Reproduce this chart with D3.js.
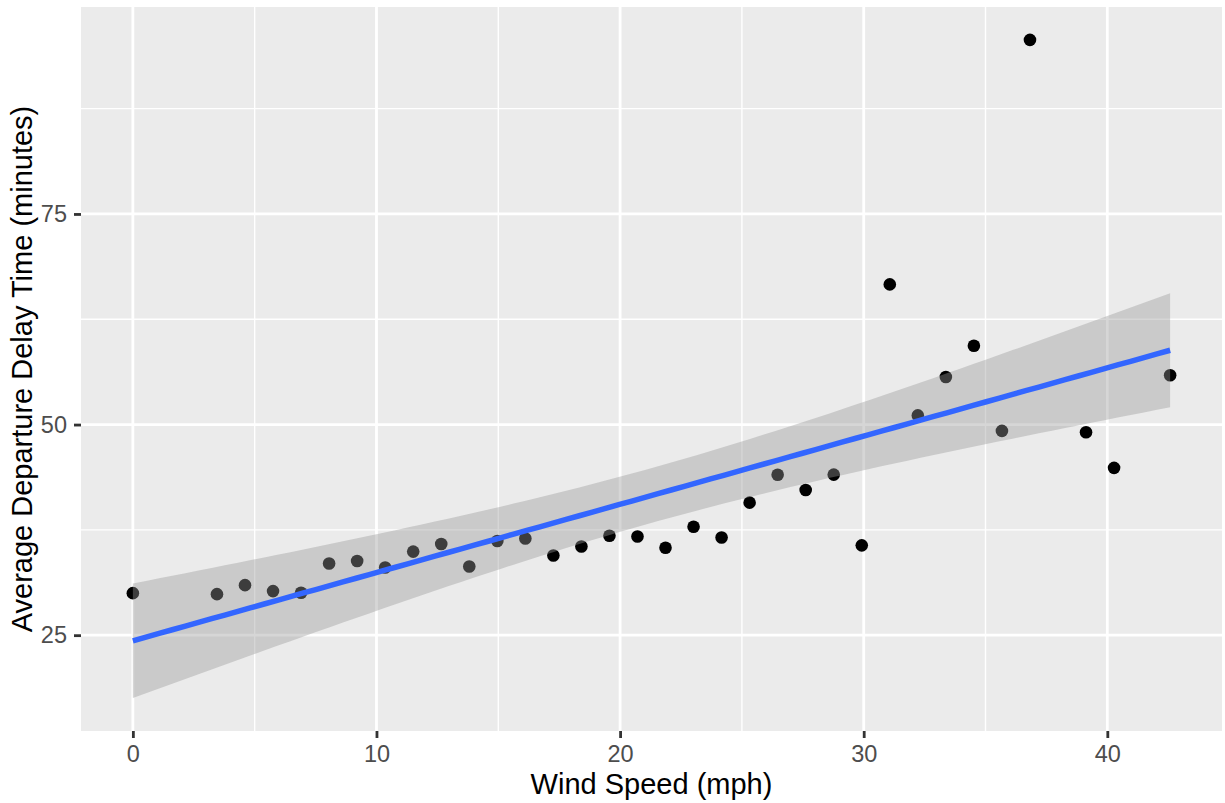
<!DOCTYPE html>
<html>
<head>
<meta charset="utf-8">
<script src="https://cdn.jsdelivr.net/npm/d3@7"></script>
<style>
  body { margin: 0; background: #ffffff; }
  svg { display: block; }
  text { font-family: "Liberation Sans", Arial, Helvetica, sans-serif; }
</style>
</head>
<body>
<svg id="chart" width="1225" height="803"></svg>
<script>
// Wind speed bins (mph) and the mean departure delay observed in each
const windSpeed = [0, 3.45234, 4.60312, 5.7539, 6.90468, 8.05546, 9.20624, 10.35702,
  11.5078, 12.65858, 13.80936, 14.96014, 16.11092, 17.2617, 18.41248, 19.56326,
  20.71404, 21.86482, 23.0156, 24.16638, 25.31716, 26.46794, 27.61872, 28.7695,
  29.92028, 31.07106, 32.22184, 33.37262, 34.5234, 35.67418, 36.82496, 39.12652,
  40.2773, 42.57886];
const avgDelay = [29.99, 29.87, 30.94, 30.23, 30.03, 33.51, 33.80, 33.04,
  34.92, 35.82, 33.15, 36.17, 36.48, 34.46, 35.53, 36.80,
  36.72, 35.38, 37.87, 36.60, 40.73, 44.05, 42.23, 44.06,
  35.66, 66.64, 51.09, 55.64, 59.36, 49.25, 95.66, 49.08,
  44.86, 55.85];

const xTicks = [0, 10, 20, 30, 40];
const xMinor = [5, 15, 25, 35];
const yTicks = [25, 50, 75];
const yMinor = [37.5, 62.5, 87.5];

const xTitle = "Wind Speed (mph)";
const yTitle = "Average Departure Delay Time (minutes)";

// ---- linear model with 95% confidence band ----
const n = windSpeed.length;
const mx = d3.mean(windSpeed), my = d3.mean(avgDelay);
let sxx = 0, sxy = 0;
for (let i = 0; i < n; i++) {
  sxx += (windSpeed[i] - mx) ** 2;
  sxy += (windSpeed[i] - mx) * (avgDelay[i] - my);
}
const slope = sxy / sxx, intercept = my - slope * mx;
let sse = 0;
for (let i = 0; i < n; i++) sse += (avgDelay[i] - (intercept + slope * windSpeed[i])) ** 2;
const sigma = Math.sqrt(sse / (n - 2));
const tCrit = 2.036933; // t(0.975, df = 32)

const [xMin, xMax] = d3.extent(windSpeed);
const fit = d3.range(80).map(i => {
  const x = xMin + (xMax - xMin) * i / 79;
  const y = intercept + slope * x;
  const se = sigma * Math.sqrt(1 / n + (x - mx) ** 2 / sxx);
  return { x, y, lo: y - tCrit * se, hi: y + tCrit * se };
});

// ---- layout ----
const panel = { left: 81, right: 1222, top: 7, bottom: 731 };
const svg = d3.select("#chart");

const expand = ([a, b]) => { const p = (b - a) * 0.05; return [a - p, b + p]; };
const x = d3.scaleLinear()
  .domain(expand([xMin, xMax]))
  .range([panel.left, panel.right]);
const yLo = Math.min(d3.min(avgDelay), d3.min(fit, d => d.lo));
const yHi = Math.max(d3.max(avgDelay), d3.max(fit, d => d.hi));
const y = d3.scaleLinear()
  .domain(expand([yLo, yHi]))
  .range([panel.bottom, panel.top]);

// panel background
svg.append("rect")
  .attr("x", panel.left).attr("y", panel.top)
  .attr("width", panel.right - panel.left)
  .attr("height", panel.bottom - panel.top)
  .attr("fill", "#EBEBEB");

const grid = svg.append("g");
// minor grid
grid.selectAll(".vx-minor").data(xMinor).join("line")
  .attr("x1", d => x(d)).attr("x2", d => x(d))
  .attr("y1", panel.top).attr("y2", panel.bottom)
  .attr("stroke", "#ffffff").attr("stroke-width", 1.4);
grid.selectAll(".hy-minor").data(yMinor.filter(v => v > y.domain()[0] && v < y.domain()[1])).join("line")
  .attr("x1", panel.left).attr("x2", panel.right)
  .attr("y1", d => y(d)).attr("y2", d => y(d))
  .attr("stroke", "#ffffff").attr("stroke-width", 1.4);
// major grid
grid.selectAll(".vx-major").data(xTicks).join("line")
  .attr("x1", d => x(d)).attr("x2", d => x(d))
  .attr("y1", panel.top).attr("y2", panel.bottom)
  .attr("stroke", "#ffffff").attr("stroke-width", 2.8);
grid.selectAll(".hy-major").data(yTicks).join("line")
  .attr("x1", panel.left).attr("x2", panel.right)
  .attr("y1", d => y(d)).attr("y2", d => y(d))
  .attr("stroke", "#ffffff").attr("stroke-width", 2.8);

// points
svg.append("g").selectAll("circle")
  .data(windSpeed.map((w, i) => ({ w, v: avgDelay[i] })))
  .join("circle")
  .attr("cx", d => x(d.w)).attr("cy", d => y(d.v))
  .attr("r", 6.3).attr("fill", "#000000");

// confidence ribbon
svg.append("path")
  .datum(fit)
  .attr("d", d3.area().x(d => x(d.x)).y0(d => y(d.lo)).y1(d => y(d.hi)))
  .attr("fill", "#999999").attr("fill-opacity", 0.4);

// fitted line
svg.append("path")
  .datum(fit)
  .attr("d", d3.line().x(d => x(d.x)).y(d => y(d.y)))
  .attr("fill", "none").attr("stroke", "#3366FF").attr("stroke-width", 5.5);

// axes
const xAxis = d3.axisBottom(x).tickValues(xTicks).tickSize(7).tickPadding(7).tickFormat(d3.format("d"));
const yAxis = d3.axisLeft(y).tickValues(yTicks).tickSize(7).tickPadding(7).tickFormat(d3.format("d"));

const gx = svg.append("g").attr("transform", `translate(0,${panel.bottom})`).call(xAxis);
const gy = svg.append("g").attr("transform", `translate(${panel.left},0)`).call(yAxis);
[gx, gy].forEach(g => {
  g.select(".domain").remove();
  g.selectAll(".tick line").attr("stroke", "#333333").attr("stroke-width", 2.8);
  g.selectAll(".tick text").attr("fill", "#4D4D4D").style("font-size", "23.5px")
    .attr("font-family", '"Liberation Sans", Arial, sans-serif');
});

// axis titles
svg.append("text")
  .attr("x", (panel.left + panel.right) / 2).attr("y", 794)
  .attr("text-anchor", "middle")
  .style("font-size", "29px").attr("fill", "#000000")
  .text(xTitle);
svg.append("text")
  .attr("transform", `translate(32,${(panel.top + panel.bottom) / 2}) rotate(-90)`)
  .attr("text-anchor", "middle")
  .style("font-size", "29px").attr("fill", "#000000")
  .text(yTitle);
</script>
</body>
</html>
